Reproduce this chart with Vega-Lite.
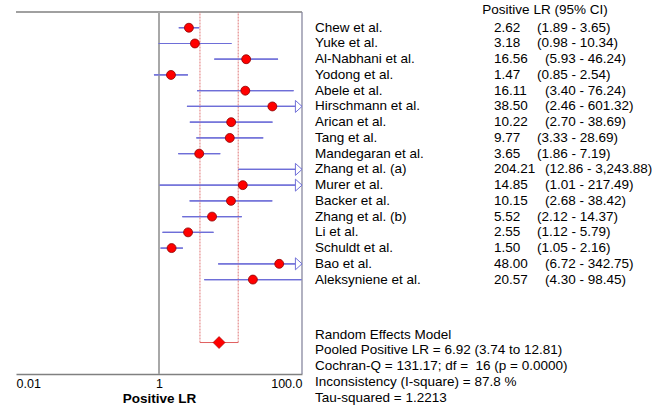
{
  "$schema": "https://vega.github.io/schema/vega-lite/v6.json",
  "width": 286,
  "height": 362,
  "autosize": {"type": "none"},
  "padding": {"left": 16, "top": 12, "right": 370, "bottom": 36},
  "background": "white",
  "config": {"view": {"stroke": null}, "font": "Liberation Sans"},
  "datasets": {
    "studies": [
      {"study": "Chew et al.", "lr": 2.62, "lo": 1.89, "hi": 3.65, "ci": "(1.89 - 3.65)", "row": 1},
      {"study": "Yuke et al.", "lr": 3.18, "lo": 0.98, "hi": 10.34, "ci": "(0.98 - 10.34)", "row": 2},
      {"study": "Al-Nabhani et al.", "lr": 16.56, "lo": 5.93, "hi": 46.24, "ci": "(5.93 - 46.24)", "row": 3},
      {"study": "Yodong et al.", "lr": 1.47, "lo": 0.85, "hi": 2.54, "ci": "(0.85 - 2.54)", "row": 4},
      {"study": "Abele et al.", "lr": 16.11, "lo": 3.40, "hi": 76.24, "ci": "(3.40 - 76.24)", "row": 5},
      {"study": "Hirschmann et al.", "lr": 38.50, "lo": 2.46, "hi": 601.32, "ci": "(2.46 - 601.32)", "row": 6},
      {"study": "Arican et al.", "lr": 10.22, "lo": 2.70, "hi": 38.69, "ci": "(2.70 - 38.69)", "row": 7},
      {"study": "Tang et al.", "lr": 9.77, "lo": 3.33, "hi": 28.69, "ci": "(3.33 - 28.69)", "row": 8},
      {"study": "Mandegaran et al.", "lr": 3.65, "lo": 1.86, "hi": 7.19, "ci": "(1.86 - 7.19)", "row": 9},
      {"study": "Zhang et al. (a)", "lr": 204.21, "lo": 12.86, "hi": 3243.88, "ci": "(12.86 - 3,243.88)", "row": 10},
      {"study": "Murer et al.", "lr": 14.85, "lo": 1.01, "hi": 217.49, "ci": "(1.01 - 217.49)", "row": 11},
      {"study": "Backer et al.", "lr": 10.15, "lo": 2.68, "hi": 38.42, "ci": "(2.68 - 38.42)", "row": 12},
      {"study": "Zhang et al. (b)", "lr": 5.52, "lo": 2.12, "hi": 14.37, "ci": "(2.12 - 14.37)", "row": 13},
      {"study": "Li et al.", "lr": 2.55, "lo": 1.12, "hi": 5.79, "ci": "(1.12 - 5.79)", "row": 14},
      {"study": "Schuldt et al.", "lr": 1.50, "lo": 1.05, "hi": 2.16, "ci": "(1.05 - 2.16)", "row": 15},
      {"study": "Bao et al.", "lr": 48.00, "lo": 6.72, "hi": 342.75, "ci": "(6.72 - 342.75)", "row": 16},
      {"study": "Aleksyniene et al.", "lr": 20.57, "lo": 4.30, "hi": 98.45, "ci": "(4.30 - 98.45)", "row": 17}
    ],
    "pooled": [{"label": "Pooled", "lr": 6.92, "lo": 3.74, "hi": 12.81, "row": 21}],
    "notes": [
      {"line": "Random Effects Model", "row": 20.5},
      {"line": "Pooled Positive LR = 6.92 (3.74 to 12.81)", "row": 21.5},
      {"line": "Cochran-Q = 131.17; df = \u00a016 (p = 0.0000)", "row": 22.5},
      {"line": "Inconsistency (I-square) = 87.8 %", "row": 23.5},
      {"line": "Tau-squared = 1.2213", "row": 24.5}
    ],
    "header": [{"line": "Positive LR (95% CI)", "row": -0.12}],
    "one": [{}]
  },
  "layer": [
    {
      "data": {"name": "studies"},
      "mark": {"type": "rule", "color": "#6E6ED8", "strokeWidth": 1.2},
      "encoding": {
        "x": {"field": "lo", "type": "quantitative", "scale": {"type": "log", "domain": [0.01, 100], "nice": false, "clamp": true},
          "axis": {"values": [0.01, 1, 100], "ticks": false, "grid": false, "domainColor": "#808080", "domainWidth": 1.5,
            "labelFlush": true, "labelExpr": "datum.value >= 100 ? '100.0' : datum.value >= 1 ? '1' : '0.01'",
            "labelFont": "Liberation Sans", "labelFontSize": 12.5, "labelColor": "#000000", "labelPadding": 3,
            "title": "Positive LR", "titleFont": "Liberation Sans", "titleFontSize": 13.5, "titleFontWeight": "bold", "titleColor": "#000000", "titlePadding": 2}},
        "x2": {"field": "hi"},
        "y": {"field": "row", "type": "quantitative", "scale": {"domain": [0, 23], "reverse": true, "nice": false, "zero": false}, "axis": null}
      }
    },
    {
      "data": {"name": "one"},
      "mark": {"type": "rule", "color": "#808080", "strokeWidth": 1.5},
      "encoding": {
        "y": {"datum": 0, "type": "quantitative"}
      }
    },
    {
      "data": {"name": "one"},
      "mark": {"type": "rule", "color": "#8888A0", "strokeWidth": 1.3},
      "encoding": {
        "x": {"datum": 100, "type": "quantitative"}
      }
    },
    {
      "data": {"name": "one"},
      "mark": {"type": "rule", "color": "#A8A8A8", "strokeWidth": 2},
      "encoding": {
        "x": {"datum": 1, "type": "quantitative"}
      }
    },
    {
      "data": {"name": "pooled"},
      "transform": [{"fold": ["lo", "hi"], "as": ["bound", "value"]}],
      "mark": {"type": "rule", "color": "#E07878", "strokeWidth": 1, "strokeDash": [2, 1]},
      "encoding": {
        "x": {"field": "value", "type": "quantitative"},
        "y": {"field": "row", "type": "quantitative"},
        "y2": {"value": 0}
      }
    },
    {
      "data": {"name": "pooled"},
      "mark": {"type": "rule", "color": "#E06060", "strokeWidth": 1},
      "encoding": {
        "x": {"field": "lo", "type": "quantitative"},
        "x2": {"field": "hi"},
        "y": {"field": "row", "type": "quantitative"}
      }
    },
    {
      "data": {"name": "studies"},
      "mark": {"type": "rule", "color": "#6E6ED8", "strokeWidth": 1.2},
      "encoding": {
        "x": {"field": "lo", "type": "quantitative"},
        "x2": {"field": "hi"},
        "y": {"field": "row", "type": "quantitative"}
      }
    },
    {
      "data": {"name": "studies"},
      "transform": [{"filter": "datum.hi > 100"}],
      "mark": {"type": "point", "shape": "M-1.1,-1L0,0L-1.1,1Z", "size": 144, "filled": true, "fill": "white", "fillOpacity": 1, "stroke": "#7070D8", "strokeWidth": 1, "opacity": 1},
      "encoding": {
        "x": {"field": "hi", "type": "quantitative"},
        "y": {"field": "row", "type": "quantitative"}
      }
    },
    {
      "data": {"name": "studies"},
      "transform": [{"filter": "datum.lr <= 100"}],
      "mark": {"type": "point", "shape": "circle", "size": 80, "filled": true, "fill": "#FF0000", "stroke": "#8B0000", "strokeWidth": 0.8, "opacity": 1},
      "encoding": {
        "x": {"field": "lr", "type": "quantitative"},
        "y": {"field": "row", "type": "quantitative"}
      }
    },
    {
      "data": {"name": "pooled"},
      "mark": {"type": "point", "shape": "diamond", "size": 144, "filled": true, "fill": "#FF0000", "stroke": "#A00000", "strokeWidth": 0.6, "opacity": 1},
      "encoding": {
        "x": {"field": "lr", "type": "quantitative"},
        "y": {"field": "row", "type": "quantitative"}
      }
    },
    {
      "data": {"name": "studies"},
      "mark": {"type": "text", "align": "left", "baseline": "middle", "dx": 13, "font": "Liberation Sans", "fontSize": 13.5, "color": "#000000"},
      "encoding": {
        "x": {"datum": 100, "type": "quantitative"},
        "y": {"field": "row", "type": "quantitative"},
        "text": {"field": "study"}
      }
    },
    {
      "data": {"name": "studies"},
      "mark": {"type": "text", "align": "left", "baseline": "middle", "dx": 192, "font": "Liberation Sans", "fontSize": 13.5, "color": "#000000"},
      "encoding": {
        "x": {"datum": 100, "type": "quantitative"},
        "y": {"field": "row", "type": "quantitative"},
        "text": {"field": "lr", "type": "quantitative", "format": ".2f"}
      }
    },
    {
      "data": {"name": "studies"},
      "mark": {"type": "text", "align": "left", "baseline": "middle", "dx": {"expr": "datum.lr >= 10 ? 243 : 235"}, "font": "Liberation Sans", "fontSize": 13.5, "color": "#000000"},
      "encoding": {
        "x": {"datum": 100, "type": "quantitative"},
        "y": {"field": "row", "type": "quantitative"},
        "text": {"field": "ci"}
      }
    },
    {
      "data": {"name": "header"},
      "mark": {"type": "text", "align": "center", "baseline": "middle", "dx": 243, "font": "Liberation Sans", "fontSize": 13.5, "color": "#000000"},
      "encoding": {
        "x": {"datum": 100, "type": "quantitative"},
        "y": {"field": "row", "type": "quantitative"},
        "text": {"field": "line"}
      }
    },
    {
      "data": {"name": "notes"},
      "mark": {"type": "text", "align": "left", "baseline": "middle", "dx": 13, "font": "Liberation Sans", "fontSize": 13.5, "color": "#000000"},
      "encoding": {
        "x": {"datum": 100, "type": "quantitative"},
        "y": {"field": "row", "type": "quantitative"},
        "text": {"field": "line"}
      }
    }
  ]
}
